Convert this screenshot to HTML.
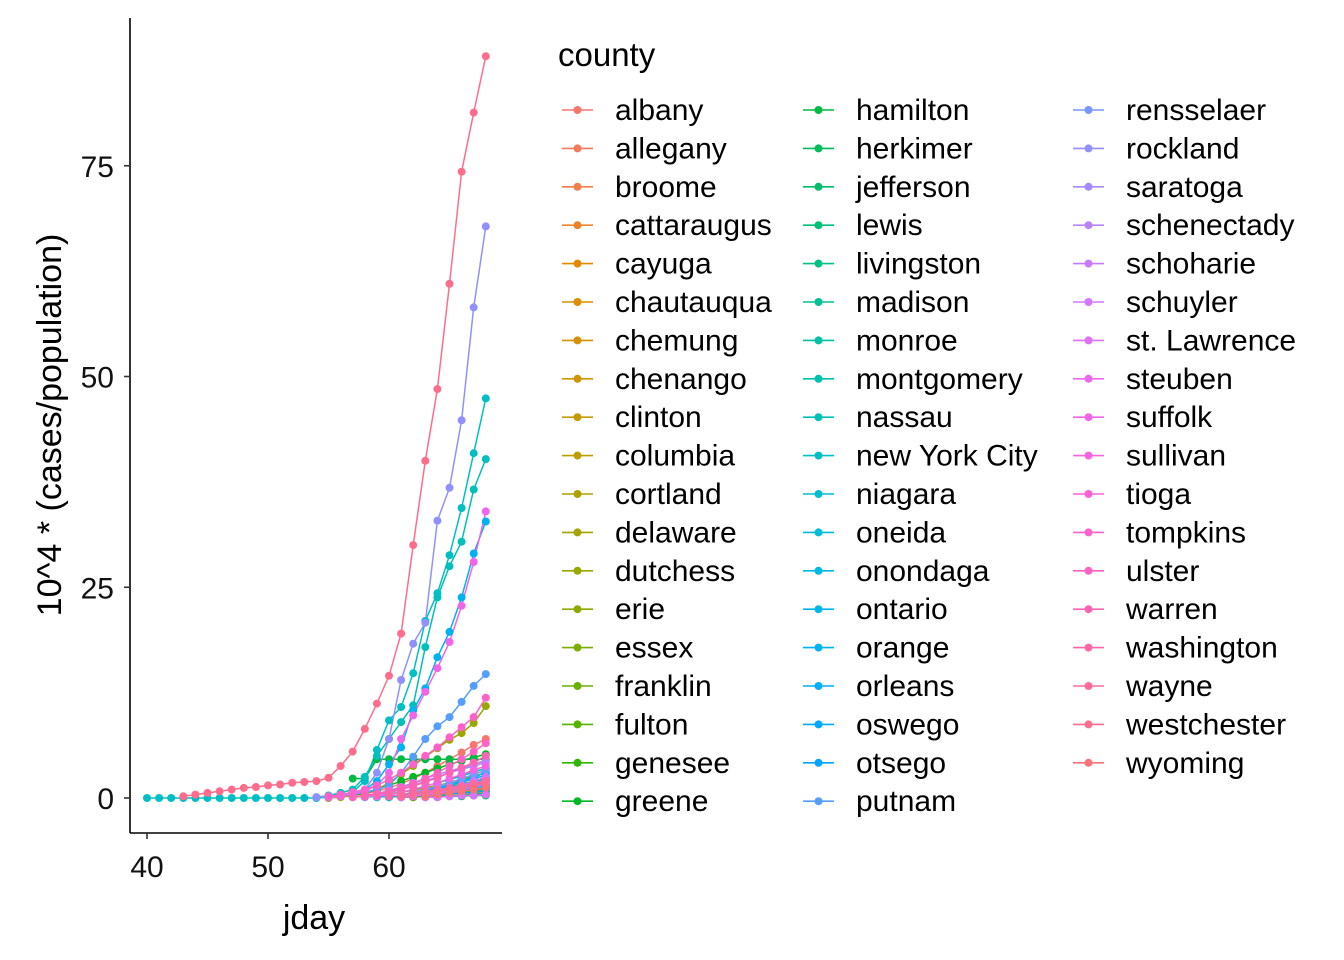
<!DOCTYPE html>
<html><head><meta charset="utf-8">
<style>
html,body{margin:0;padding:0;background:#fff;}
svg{display:block;font-family:"Liberation Sans",Arial,sans-serif;}
</style></head>
<body>
<svg id="chart" width="1344" height="960" viewBox="0 0 1344 960">
  <g id="lines"></g>
  <g id="points"></g>
  <line x1="130" y1="18" x2="130" y2="833" stroke="#000" stroke-width="1.6"/>
  <line x1="130" y1="833" x2="502" y2="833" stroke="#000" stroke-width="1.6"/>
  <g id="yticks"></g>
  <g id="xticks"></g>
  <text x="314" y="929" font-size="34" text-anchor="middle" fill="#000">jday</text>
  <text transform="translate(61,425) rotate(-90)" font-size="34" text-anchor="middle" fill="#000">10^4 * (cases/population)</text>
  <text x="558" y="66" font-size="33" fill="#000">county</text>
  <g id="legend"></g>
</svg>
<script>
const counties = ["albany","allegany","broome","cattaraugus","cayuga","chautauqua","chemung","chenango","clinton","columbia","cortland","delaware","dutchess","erie","essex","franklin","fulton","genesee","greene","hamilton","herkimer","jefferson","lewis","livingston","madison","monroe","montgomery","nassau","new York City","niagara","oneida","onondaga","ontario","orange","orleans","oswego","otsego","putnam","rensselaer","rockland","saratoga","schenectady","schoharie","schuyler","st. Lawrence","steuben","suffolk","sullivan","tioga","tompkins","ulster","warren","washington","wayne","westchester","wyoming"];
const startDay = [55,60,59,61,60,61,61,62,60,58,62,60,55,57,63,62,61,62,57,57,61,63,64,61,61,58,62,54,40,60,60,59,62,54,63,61,60,55,60,54,58,58,62,63,63,61,55,59,62,55,57,58,60,61,43,63];
const seriesValues = [
 [0.1,0.2,0.3,0.5,0.8,1.2,1.7,2.3,3.0,3.8,4.6,5.4,6.3,7.0],
 [0.2,0.3,0.3,0.5,0.6,0.8,0.9,1.0,1.1],
 [0.1,0.2,0.3,0.5,0.7,1.0,1.3,1.6,1.9,2.3],
 [0.1,0.1,0.2,0.3,0.3,0.4,0.5,0.6],
 [0.1,0.2,0.3,0.3,0.4,0.6,0.7,0.8,0.9],
 [0.1,0.1,0.2,0.2,0.3,0.3,0.4,0.4],
 [0.2,0.3,0.5,0.7,1.0,1.2,1.5,1.8],
 [0.3,0.5,0.8,1.0,1.3,1.6,2.0],
 [0.1,0.3,0.5,0.8,1.0,1.3,1.7,2.0,2.4],
 [0.2,0.4,0.7,1.0,1.5,2.0,2.5,3.0,3.5,4.0,4.5],
 [0.2,0.3,0.5,0.6,0.8,1.0,1.2],
 [0.2,0.3,0.5,0.8,1.0,1.3,1.6,2.0,2.4],
 [0.0,0.1,0.3,0.6,1.0,1.8,2.8,3.8,4.9,5.9,6.9,7.7,8.9,10.9],
 [0.1,0.2,0.3,0.5,0.7,0.9,1.2,1.5,1.8,2.2,2.6,3.0],
 [0.3,0.5,0.8,1.0,1.2,1.5],
 [0.1,0.2,0.3,0.5,0.6,0.8,1.0],
 [0.2,0.3,0.5,0.7,0.9,1.1,1.3,1.6],
 [0.3,0.5,0.7,1.0,1.3,1.6,2.0],
 [0.3,0.6,1.0,1.5,2.0,2.5,3.0,3.5,4.0,4.4,4.8,5.2],
 [2.3,2.3,4.6,4.6,4.6,4.6,4.6,4.6,4.6,4.6,4.6,4.6],
 [0.1,0.2,0.3,0.4,0.5,0.6,0.7,0.8],
 [0.1,0.1,0.2,0.2,0.3,0.3],
 [0.3,0.3,0.3,0.5,0.5],
 [0.2,0.3,0.4,0.5,0.7,0.8,1.0,1.2],
 [0.3,0.5,0.7,1.0,1.3,1.6,2.0,2.3],
 [0.1,0.2,0.4,0.7,1.0,1.4,1.8,2.2,2.6,3.1,3.5],
 [0.4,0.8,1.2,1.6,2.0,2.5,3.0],
 [0.1,0.3,0.6,1.0,2.5,5.0,7.0,9.0,11.0,17.9,23.8,27.5,30.4,36.6,40.2],
 [0,0,0,0,0,0,0,0,0,0,0,0,0,0,0,0.1,0.3,0.7,2.0,5.7,9.2,10.8,14.8,21.0,24.3,28.8,34.4,40.9,47.4],
 [0.1,0.2,0.3,0.5,0.7,0.9,1.1,1.3,1.6],
 [0.1,0.2,0.3,0.4,0.6,0.8,1.0,1.2,1.4],
 [0.1,0.2,0.3,0.5,0.8,1.1,1.5,2.0,2.5,3.0],
 [0.3,0.5,0.8,1.1,1.4,1.8,2.2],
 [0.1,0.2,0.3,0.5,1.0,2.0,4.0,6.0,10.4,13.0,16.7,19.7,23.8,29.0,32.8],
 [0.2,0.4,0.6,0.9,1.2,1.5],
 [0.1,0.2,0.3,0.4,0.5,0.6,0.7,0.9],
 [0.2,0.4,0.6,0.9,1.2,1.5,1.9,2.3,2.7],
 [0.1,0.2,0.4,0.7,1.0,1.5,3.0,4.9,7.0,8.5,9.6,11.4,13.3,14.7],
 [0.2,0.4,0.7,1.0,1.4,1.8,2.3,2.8,3.3],
 [0.1,0.2,0.3,0.5,1.0,3.0,7.0,14.0,18.3,20.8,32.9,36.8,44.8,58.2,67.8],
 [0.1,0.3,0.6,1.0,1.5,2.0,2.5,3.0,3.4,3.8,4.2],
 [0.2,0.5,0.9,1.3,1.8,2.3,2.8,3.2,3.6,4.0,4.4],
 [0.3,0.6,0.9,1.2,1.5,1.8,2.1],
 [0.5,0.5,1.0,1.5,2.0,2.5],
 [0.1,0.1,0.2,0.3,0.3,0.4],
 [0.1,0.2,0.4,0.6,0.8,1.0,1.3,1.6],
 [0.1,0.2,0.4,0.8,1.5,3.0,7.0,9.8,12.6,15.4,18.5,22.8,28.0,34.0],
 [0.2,0.4,0.7,1.0,1.4,1.8,2.3,2.8,3.3,3.8],
 [0.3,0.5,0.8,1.1,1.4,1.7,2.0],
 [0.2,0.4,0.7,1.0,1.5,2.2,3.0,4.0,5.0,6.0,7.2,8.4,9.6,11.9],
 [0.1,0.3,0.5,0.8,1.2,1.7,2.3,3.0,3.8,4.6,5.5,6.5],
 [0.2,0.4,0.7,1.0,1.4,1.9,2.4,3.0,3.6,4.2,5.0],
 [0.2,0.4,0.6,0.8,1.0,1.2,1.4,1.7,2.0],
 [0.2,0.4,0.6,0.8,1.0,1.2,1.5,1.8],
 [0.2,0.4,0.6,0.8,1.0,1.2,1.3,1.5,1.6,1.8,1.9,2.0,2.4,3.8,5.5,8.2,11.2,14.5,19.5,30.0,40.0,48.5,61.0,74.3,81.3,88.0],
 [0.2,0.4,0.6,0.8,1.0,1.2]
];
const yTickValues = [0,25,50,75];
const xTickValues = [40,50,60];

const NS = "http://www.w3.org/2000/svg";
function xScale(d){ return 147 + (d - 40) * 12.1; }
function yScale(v){ return 798 - v * 8.43; }
function hcl(h){
  const L=65, C=100, hr=h*Math.PI/180;
  const u=C*Math.cos(hr), v=C*Math.sin(hr);
  const Xn=95.047,Yn=100,Zn=108.883;
  const un=4*Xn/(Xn+15*Yn+3*Zn), vn=9*Yn/(Xn+15*Yn+3*Zn);
  const Y = Yn*Math.pow((L+16)/116,3);
  const up=u/(13*L)+un, vp=v/(13*L)+vn;
  const X = Y*9*up/(4*vp), Z = Y*(12-3*up-20*vp)/(4*vp);
  const x=X/100,y=Y/100,z=Z/100;
  let r=3.2406*x-1.5372*y-0.4986*z, g=-0.9689*x+1.8758*y+0.0415*z, b=0.0557*x-0.2040*y+1.0570*z;
  const f=c=>{c=c<=0.0031308?12.92*c:1.055*Math.pow(c,1/2.4)-0.055;return Math.round(Math.max(0,Math.min(1,c))*255);};
  return "rgb("+f(r)+","+f(g)+","+f(b)+")";
}
const n = counties.length;
const colors = counties.map((c,i)=>hcl(15+360*i/n));
function mk(tag, attrs, parent){
  const el=document.createElementNS(NS,tag);
  for(const k in attrs) el.setAttribute(k,attrs[k]);
  parent.appendChild(el); return el;
}
const gl=document.getElementById("lines"), gp=document.getElementById("points");
counties.forEach((name,i)=>{
  const vals=seriesValues[i];
  const pts=vals.map((v,j)=>xScale(startDay[i]+j).toFixed(1)+","+yScale(v).toFixed(1)).join(" ");
  const pl=mk("polyline",{points:pts,fill:"none",stroke:colors[i],"stroke-width":1.5},gl);
  
  
});
counties.forEach((name,i)=>{
  seriesValues[i].forEach((v,j)=>{
    const c=mk("circle",{cx:xScale(startDay[i]+j).toFixed(1),cy:yScale(v).toFixed(1),r:4,fill:colors[i]},gp);
    
    
  });
});
const gy=document.getElementById("yticks");
yTickValues.forEach(v=>{
  const t=mk("line",{x1:124,x2:130,y1:yScale(v),y2:yScale(v),stroke:"#333","stroke-width":1.6},gy);
  
  
  const l=mk("text",{x:114,y:yScale(v)+11,"font-size":30,"text-anchor":"end",fill:"#111"},gy);
  l.textContent=v;
  
  
});
const gx=document.getElementById("xticks");
xTickValues.forEach(v=>{
  const t=mk("line",{x1:xScale(v),x2:xScale(v),y1:833,y2:839,stroke:"#333","stroke-width":1.6},gx);
  
  
  const l=mk("text",{x:xScale(v),y:877,"font-size":30,"text-anchor":"middle",fill:"#111"},gx);
  l.textContent=v;
  
  
});
const lg=document.getElementById("legend");
const colX=[562,803,1073];
counties.forEach((name,i)=>{
  let col=0, row=i;
  if(i>=38){col=2;row=i-38;} else if(i>=19){col=1;row=i-19;}
  const y=110+row*38.4, x0=colX[col];
  const g=mk("g",{},lg);
  
  
  mk("line",{x1:x0,x2:x0+31,y1:y,y2:y,stroke:colors[i],"stroke-width":1.6},g);
  mk("circle",{cx:x0+15.5,cy:y,r:4,fill:colors[i]},g);
  const t=mk("text",{x:x0+53,y:y+10,"font-size":30,fill:"#000"},g);
  t.textContent=name;
});
</script>
</body></html>
